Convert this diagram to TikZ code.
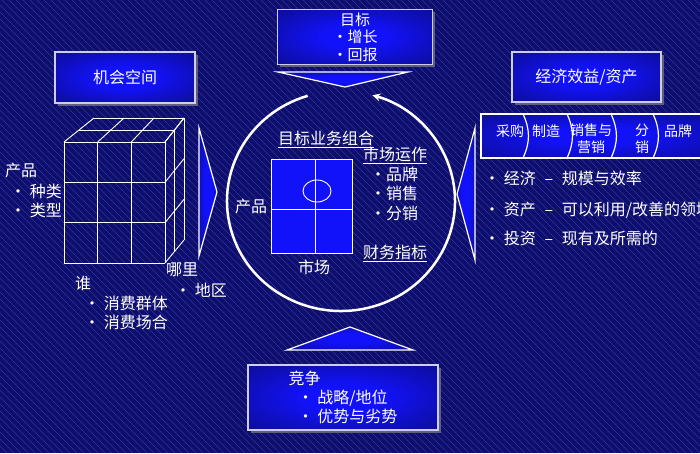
\documentclass[tikz,border=0pt]{standalone}
\usepackage{fontspec}
\setmainfont{Noto Sans CJK SC}
\usepackage{tikz}
\usetikzlibrary{shapes.geometric, arrows, shadows, calc}
\definecolor{navy}{RGB}{14,14,108}
\definecolor{stripe}{RGB}{50,50,160}
\definecolor{brightblue}{RGB}{18,18,250}
\definecolor{deepblue}{RGB}{10,10,95}
\definecolor{framegray}{RGB}{205,205,240}
\pgfdeclareradialshading{boxglow}{\pgfpoint{0bp}{0bp}}{color(0bp)=(brightblue); color(10bp)=(brightblue); color(50bp)=(deepblue); color(60bp)=(deepblue)}
\newcommand{\dashgap}{\hspace{0.55em}–\hspace{0.55em}}
\tikzstyle{titlebox} = [rectangle, draw=framegray, line width=1.2pt, shade, shading=boxglow, text=white, drop shadow={opacity=0.7}]
\tikzstyle{txt} = [text=white, inner sep=0pt, anchor=west, font=\fontsize{16}{20}\selectfont]
\tikzstyle{small} = [text=white, inner sep=0pt, align=center, font=\fontsize{14}{18}\selectfont]
\tikzstyle{pointer} = [draw=white, line width=1.2pt, shade, shading=boxglow]
\tikzstyle{gridline} = [white, line width=0.9pt]
\tikzstyle{cyclearrow} = [white, line width=2.5pt, ->, >=stealth]

\begin{document}
\begin{tikzpicture}[x=1pt, y=-1pt]
  \path[use as bounding box, clip] (0,0) rectangle (700,453);
  \fill[navy] (0,0) rectangle (700,453);
  \foreach \s in {-460,-453,...,700}
    \draw[stripe, line width=0.6pt] (\s,0) -- (\s+453,453);

  % title boxes
  \node[titlebox, minimum width=140, minimum height=51, font=\fontsize{16}{20}\selectfont] (space) at (125,77.5) {机会空间};
  \node[titlebox, minimum width=149, minimum height=50, font=\fontsize{16}{20}\selectfont] (profit) at (586.5,77) {经济效益/资产};
  \node[titlebox, minimum width=155, minimum height=54, align=center, font=\fontsize{15}{17.5}\selectfont] (goal) at (355,37) {目标\\•增长\\•回报};
  \node[titlebox, minimum width=190, minimum height=65, align=left, font=\fontsize{16}{19}\selectfont] (rival) at (343,397.5) {竞争\\\hspace{9pt}• 战略/地位\\\hspace{9pt}• 优势与劣势};

  % pointers
  \path[pointer] (278,72) -- (408,72) -- (345,87) -- cycle;
  \path[pointer] (287,350) -- (413,350) -- (350,327) -- cycle;
  \path[pointer] (199,128) -- (217,192) -- (199,256) -- cycle;
  \path[pointer] (475,128) -- (457,194) -- (475,260) -- cycle;

  % cube
  \coordinate (f00) at (64,142);
  \coordinate (f10) at (165,142);
  \coordinate (f01) at (64,263);
  \coordinate (f11) at (165,263);
  \coordinate (b00) at (94,118);
  \coordinate (b10) at (184,118);
  \coordinate (b11) at (184,240);
  \foreach \t in {0,0.3333,0.6667,1} {
    \draw[gridline] ($(f00)!\t!(f01)$) -- ($(f10)!\t!(f11)$);
    \draw[gridline] ($(f00)!\t!(f10)$) -- ($(f01)!\t!(f11)$);
    \draw[gridline] ($(f00)!\t!(f10)$) -- ($(b00)!\t!(b10)$);
    \draw[gridline] ($(f10)!\t!(f11)$) -- ($(b10)!\t!(b11)$);
  }
  \draw[gridline] ($(f00)!.5!(b00)$) -- ($(f10)!.5!(b10)$) -- ($(f11)!.5!(b11)$);
  \draw[gridline] (b00) -- (b10) -- (b11);

  \node[txt] (prod) at (5,170) {产品};
  \node[txt] (kind) at (10,191) {• 种类};
  \node[txt] (type) at (10,210) {• 类型};
  \node[txt] (who) at (75,283) {谁};
  \node[txt] (group) at (84,303) {• 消费群体};
  \node[txt] (occasion) at (84,322) {• 消费场合};
  \node[txt] (where) at (166,270) {哪里};
  \node[txt] (region) at (175,290) {• 地区};

  % cycle
  \coordinate (cyc) at (341,201);
  \draw[cyclearrow] ([shift={(107:114pt and 110pt)}]cyc) arc[start angle=107, end angle=434, x radius=114pt, y radius=110pt];

  \node[txt, anchor=center] (portfolio) at (326,139) {\underline{目标业务组合}};
  \draw[gridline, fill=brightblue] (271,159) rectangle (352,253);
  \draw[gridline] (315,159) -- (315,253);
  \draw[gridline] (271,209) -- (352,209);
  \draw[gridline] (317,191) ellipse[x radius=14, y radius=11];
  \node[txt, anchor=center] (cprod) at (251,206) {产品};
  \node[txt, anchor=center] (cmarket) at (314,267) {市场};
  \node[txt, anchor=center] (ops) at (395,155) {\underline{市场运作}};
  \node[txt] (brand) at (370,174) {•品牌};
  \node[txt] (sales) at (370,193) {•销售};
  \node[txt] (distr) at (370,213) {•分销};
  \node[txt, anchor=center] (finance) at (395,253) {\underline{财务指标}};

  % value chain
  \path[draw=white, line width=1.2pt, shade, shading=boxglow] (481,114) -- (712,114) -- (712,158) -- (481,158) -- cycle;
  \foreach \d in {523,567,611,653}
    \draw[white, line width=1.2pt] (\d,114) to[bend left=25] (\d,158);
  \node[small] (buy) at (510,131) {采购};
  \node[small] (make) at (546,131) {制造};
  \node[small, font=\fontsize{14}{17}\selectfont] (sell) at (591,139) {销售与\\营销};
  \node[small, font=\fontsize{14}{17}\selectfont] (dist) at (642,139) {分\\销};
  \node[small] (brandc) at (678,131) {品牌};

  \node[txt] (econ) at (484,178) {• 经济\dashgap 规模与效率};
  \node[txt] (asset) at (484,210) {• 资产\dashgap 可以利用/改善的领域};
  \node[txt] (invest) at (484,238) {• 投资\dashgap 现有及所需的};
\end{tikzpicture}
\end{document}
